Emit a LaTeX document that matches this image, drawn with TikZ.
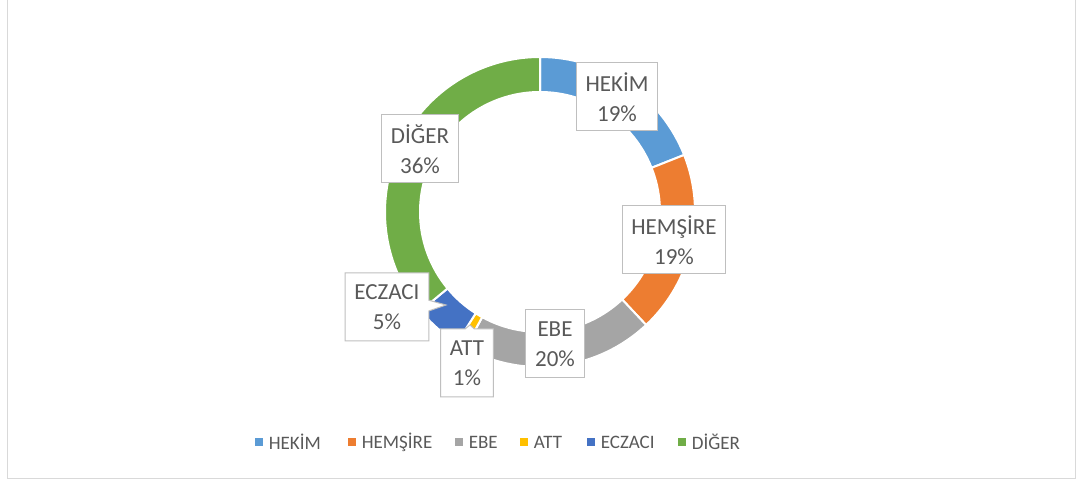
\documentclass[tikz,border=0pt]{standalone}
\usepackage{fontspec}
\setmainfont{Carlito}
\usetikzlibrary{shapes.callouts}
\definecolor{hekim}{HTML}{5B9BD5}
\definecolor{hemsire}{HTML}{ED7D31}
\definecolor{ebe}{HTML}{A5A5A5}
\definecolor{att}{HTML}{FFC000}
\definecolor{eczaci}{HTML}{4472C4}
\definecolor{diger}{HTML}{70AD47}
\definecolor{txtgray}{HTML}{595959}
\definecolor{boxgray}{HTML}{BFBFBF}
\definecolor{framegray}{HTML}{D9D9D9}
\begin{document}
\begin{tikzpicture}[x=0.75pt,y=0.75pt,
  lbl/.style={draw=boxgray,fill=white,line width=0.75pt,text=txtgray,align=center,
    font=\fontsize{17.25}{22.5}\selectfont,inner xsep=7pt,inner ysep=4pt,minimum height=51pt},
  legsq/.style={fill=#1,minimum size=6pt,inner sep=0pt},
  legtxt/.style={text=txtgray,font=\fontsize{14.25}{17}\selectfont,anchor=west,inner sep=0pt}]
\useasboundingbox (0,0) rectangle (1080,481);
\draw[framegray,line width=0.75pt] (7,481) -- (7,2) -- (1075,2) -- (1075,481);
\begin{scope}[shift={(540,269)}]
  \foreach \a/\b/\col in {90/21.6/hekim, 21.6/-46.8/hemsire, -46.8/-118.8/ebe,
      -118.8/-122.4/att, -122.4/-140.4/eczaci, -140.4/-270/diger}
    \filldraw[fill=\col,draw=white,line width=1.5pt] (\a:155)
      arc[start angle=\a,end angle=\b,radius=116.25pt] -- (\b:120)
      arc[start angle=\b,end angle=\a,radius=90pt] -- cycle;
\end{scope}
\node[lbl] (hekimlbl) at (617,384) {HEKİM\\19\%};
\node[lbl] (hemsirelbl) at (674,241) {HEMŞİRE\\19\%};
\node[lbl] (ebelbl) at (555,137) {EBE\\20\%};
\node[lbl,rectangle callout,callout absolute pointer={(470,156)},callout pointer width=7pt] (attlbl) at (467,118) {ATT\\1\%};
\node[lbl,rectangle callout,callout absolute pointer={(446,176)},callout pointer width=8pt] (eczacilbl) at (387,174) {ECZACI\\5\%};
\node[lbl] (digerlbl) at (420,332) {DİĞER\\36\%};
\foreach \x/\name/\col in {259/HEKİM/hekim, 352/HEMŞİRE/hemsire, 459/EBE/ebe,
    524/ATT/att, 591/ECZACI/eczaci, 682/DİĞER/diger}{
  \node[legsq=\col] (sq-\col) at (\x,39) {};
  \node[legtxt] (lg-\col) at ([xshift=4pt]sq-\col.east) {\name};
}
\end{tikzpicture}
\end{document}
